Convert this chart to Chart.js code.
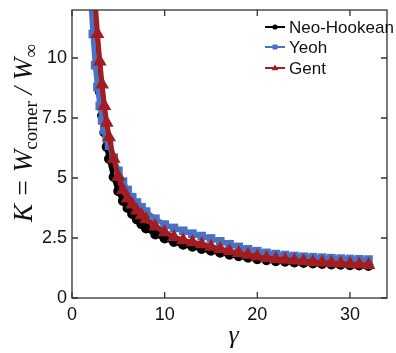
<!DOCTYPE html>
<html>
<head>
<meta charset="utf-8">
<script src="https://cdn.jsdelivr.net/npm/chart.js@4.4.0/dist/chart.umd.min.js"></script>
<style>
  html, body { margin: 0; padding: 0; background: #fff; }
  canvas { display: block; }
</style>
</head>
<body>
<canvas id="k_chart" width="396" height="353"></canvas>
<script>
var gamma = [2, 2.25, 2.5, 2.75, 3, 3.25, 3.5, 3.75, 4, 4.5, 5, 5.5, 6, 6.5, 7, 7.5, 8, 9, 10,
    11, 12, 13, 14, 15, 16, 17, 18, 19, 20, 21, 22, 23, 24, 25, 26, 27, 28, 29, 30, 31, 32];

var neoHookean = [14.5, 12.6, 11.0, 9.7, 8.6, 7.6, 6.9, 6.3, 5.8, 5.05, 4.45, 4.05, 3.75, 3.5, 3.28, 3.08, 2.9, 2.65, 2.48,
    2.34, 2.22, 2.14, 2.05, 1.97, 1.89, 1.81, 1.74, 1.68, 1.62, 1.58, 1.54, 1.51, 1.48, 1.46, 1.44, 1.42, 1.40, 1.385, 1.37, 1.355, 1.34];

var yeoh = [12.5, 11.0, 9.7, 8.8, 8.0, 7.4, 7.0, 6.65, 6.35, 5.85, 5.3, 4.85, 4.5, 4.2, 3.98, 3.78, 3.6, 3.3, 3.06,
    2.92, 2.8, 2.68, 2.58, 2.48, 2.36, 2.24, 2.13, 2.03, 1.95, 1.88, 1.83, 1.79, 1.75, 1.72, 1.7, 1.68, 1.66, 1.64, 1.625, 1.61, 1.6];

var gent = [17, 14, 12.3, 11, 9.85, 8.9, 8.0, 7.3, 6.7, 5.8, 5.05, 4.5, 4.15, 3.9, 3.65, 3.45, 3.28, 2.98, 2.74,
    2.54, 2.41, 2.32, 2.24, 2.14, 2.04, 1.95, 1.87, 1.8, 1.73, 1.67, 1.63, 1.59, 1.56, 1.53, 1.5, 1.475, 1.455, 1.435, 1.415, 1.395, 1.38];

var xTicks = [0, 10, 20, 30];
var yTicks = [0, 2.5, 5, 7.5, 10];
var yTickLabels = ["0", "2.5", "5", "7.5", "10"];

function toPoints(ys) {
    return gamma.map(function (g, i) { return { x: g, y: ys[i] }; });
}

var axisColor = '#333';

// frame, inward ticks, titles, legend
var decorPlugin = {
    id: 'decor',
    afterDraw: function (chart) {
        var ctx = chart.ctx;
        var a = chart.chartArea;
        var xs = chart.scales.x, ys = chart.scales.y;
        var tl = 6;
        ctx.save();
        ctx.strokeStyle = axisColor;
        ctx.lineWidth = 1.3;
        ctx.strokeRect(a.left, a.top, a.right - a.left, a.bottom - a.top);
        ctx.beginPath();
        xTicks.forEach(function (v) {
            var px = xs.getPixelForValue(v);
            ctx.moveTo(px, a.bottom); ctx.lineTo(px, a.bottom - tl);
            ctx.moveTo(px, a.top); ctx.lineTo(px, a.top + tl);
        });
        yTicks.forEach(function (v) {
            var py = ys.getPixelForValue(v);
            ctx.moveTo(a.left, py); ctx.lineTo(a.left + tl, py);
            ctx.moveTo(a.right, py); ctx.lineTo(a.right - tl, py);
        });
        ctx.stroke();

        // x title
        ctx.fillStyle = '#111';
        ctx.font = 'italic 26px "Liberation Serif", "DejaVu Serif", serif';
        ctx.textAlign = 'center';
        ctx.textBaseline = 'alphabetic';
        ctx.fillText('\u03b3', (a.left + a.right) / 2 + 4, 343);

        // y title: K = W_corner / W_inf
        var big = 'italic 27px "Liberation Serif", serif';
        var small = '19px "Liberation Serif", serif';
        var parts = [
            { t: 'K = W', f: big, dy: 0 },
            { t: 'corner', f: small, dy: 5 },
            { t: ' / W', f: big, dy: 0 },
            { t: '\u221e', f: small, dy: 5 }
        ];
        var total = 0;
        parts.forEach(function (p) { ctx.font = p.f; p.w = ctx.measureText(p.t).width; total += p.w; });
        ctx.translate(32, 133);
        ctx.rotate(-Math.PI / 2);
        ctx.textAlign = 'left';
        var cx = -total / 2;
        parts.forEach(function (p) {
            ctx.font = p.f;
            ctx.fillText(p.t, cx, p.dy);
            cx += p.w;
        });
        ctx.restore();

        // legend
        ctx.save();
        var lx = 265, lw = 20, rowY = [27, 47, 68];
        chart.data.datasets.forEach(function (ds, i) {
            var y = rowY[i];
            ctx.strokeStyle = ds.borderColor;
            ctx.fillStyle = ds.borderColor;
            ctx.lineWidth = 2;
            ctx.beginPath();
            ctx.moveTo(lx, y); ctx.lineTo(lx + lw, y);
            ctx.stroke();
            var mx = lx + lw / 2;
            ctx.beginPath();
            if (ds.pointStyle === 'rect') {
                ctx.rect(mx - 2.5, y - 2.5, 5, 5);
            } else if (ds.pointStyle === 'triangle') {
                ctx.moveTo(mx, y - 3.5); ctx.lineTo(mx + 3.3, y + 2.3); ctx.lineTo(mx - 3.3, y + 2.3); ctx.closePath();
            } else {
                ctx.arc(mx, y, 2.6, 0, Math.PI * 2);
            }
            ctx.fill();
            ctx.fillStyle = '#111';
            ctx.font = '17px "Liberation Sans", Arial, sans-serif';
            ctx.textAlign = 'left';
            ctx.textBaseline = 'middle';
            ctx.fillText(ds.label, lx + lw + 4, y + 1);
        });
        ctx.restore();
    }
};

new Chart(document.getElementById("k_chart").getContext("2d"), {
    type: 'line',
    data: {
        datasets: [{
            label: "Neo-Hookean",
            data: toPoints(neoHookean),
            borderColor: '#000000',
            backgroundColor: '#000000',
            pointStyle: 'circle',
            pointRadius: 2.6,
            borderWidth: 5,
            order: 3
        }, {
            label: "Yeoh",
            data: toPoints(yeoh),
            borderColor: '#4a72c2',
            backgroundColor: '#4a72c2',
            pointStyle: 'rect',
            pointRadius: 2.6,
            borderWidth: 5,
            order: 2
        }, {
            label: "Gent",
            data: toPoints(gent),
            borderColor: '#a11d21',
            backgroundColor: '#a11d21',
            pointStyle: 'triangle',
            pointRadius: 3,
            borderWidth: 5,
            order: 1
        }]
    },
    options: {
        responsive: false,
        animation: false,
        layout: { padding: { top: 10, right: 1, left: 0, bottom: 0 } },
        elements: { point: { borderWidth: 0 }, line: { tension: 0 } },
        plugins: { legend: { display: false }, tooltip: { enabled: false } },
        scales: {
            x: {
                type: 'linear',
                min: 0,
                max: 34,
                grid: { display: false, drawTicks: false },
                border: { display: false },
                afterBuildTicks: function (s) { s.ticks = xTicks.map(function (v) { return { value: v }; }); },
                afterFit: function (s) { s.height = 55; s.paddingLeft = 0; s.paddingRight = 0; },
                ticks: {
                    padding: 6,
                    color: '#111',
                    font: { family: '"Liberation Sans", Arial, sans-serif', size: 18 },
                    maxRotation: 0
                }
            },
            y: {
                type: 'linear',
                min: 0,
                max: 12,
                grid: { display: false, drawTicks: false },
                border: { display: false },
                afterBuildTicks: function (s) { s.ticks = yTicks.map(function (v) { return { value: v }; }); },
                afterFit: function (s) { s.width = 72; s.paddingTop = 0; s.paddingBottom = 0; },
                ticks: {
                    padding: 5,
                    color: '#111',
                    font: { family: '"Liberation Sans", Arial, sans-serif', size: 18 },
                    callback: function (v) { return yTickLabels[yTicks.indexOf(v)]; }
                }
            }
        }
    },
    plugins: [decorPlugin]
});
</script>
</body>
</html>
